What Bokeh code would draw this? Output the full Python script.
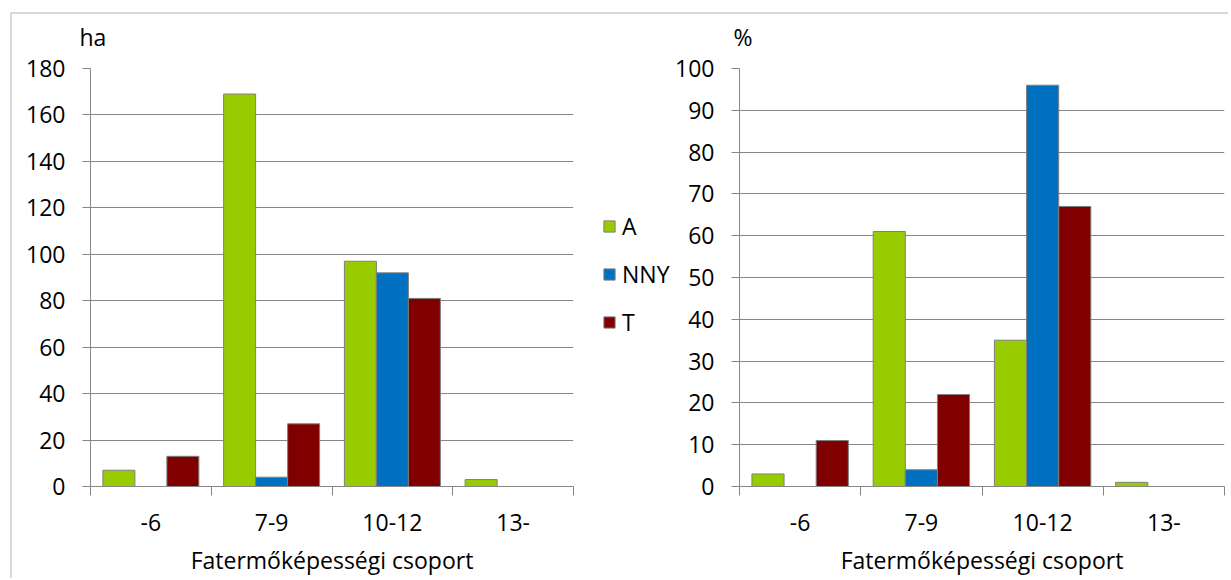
from bokeh.plotting import figure
from bokeh.models import (ColumnDataSource, Range1d, FixedTicker, SingleIntervalTicker,
                          Legend, LegendItem, InlineStyleSheet)
from bokeh.layouts import row
from bokeh.embed import file_html
from bokeh.resources import INLINE

# ---- data ----
categories = ["-6", "7-9", "10-12", "13-"]
series_names = ["A", "NNY", "T"]
series_colors = ["#99cc00", "#0070c0", "#800000"]

ha_A = [7, 169, 97, 3]
ha_NNY = [0, 4, 92, 0]
ha_T = [13, 27, 81, 0]

pct_A = [3, 61, 35, 1]
pct_NNY = [0, 4, 96, 0]
pct_T = [11, 22, 67, 0]

x_title = "Fatermőképességi csoport"

FONT = "Open Sans"
FS = "23px"
GRID = "#868686"
OUTLINE = "#7f7f7f"
BAR_W = 0.265
OFFSETS = [-BAR_W, 0.0, BAR_W]
H = 576


def bar_sources(series):
    out = []
    for vals, off in zip(series, OFFSETS):
        out.append(ColumnDataSource(dict(
            x=[i + 0.5 + off for i in range(len(categories))],
            top=vals,
            la=[1.0 if v > 0 else 0.0 for v in vals],
        )))
    return out


def make_chart(series, ymax, ystep, unit, frame_w, mb_left, mb_right, title_offset):
    p = figure(output_backend="svg", toolbar_location=None,
               frame_width=frame_w, frame_height=418,
               min_border_left=mb_left, min_border_right=mb_right,
               min_border_top=68, min_border_bottom=H - 68 - 418,
               x_range=Range1d(0, len(categories)), y_range=Range1d(0, ymax),
               title=unit, background_fill_color="white", border_fill_color="white")
    p.outline_line_color = None
    p.title.text_font = FONT
    p.title.text_font_size = FS
    p.title.text_font_style = "normal"
    p.title.text_color = "#000000"
    p.title.align = "left"
    p.title.offset = title_offset
    p.title.standoff = 32

    for src, color in zip(bar_sources(series), series_colors):
        p.vbar(x="x", top="top", bottom=0, width=BAR_W, source=src,
               fill_color=color, line_color=OUTLINE, line_width=1, line_alpha="la")

    # x axis: labels at category centres, tick marks at category boundaries
    xa = p.xaxis[0]
    xa.ticker = FixedTicker(ticks=[i + 0.5 for i in range(len(categories))],
                            minor_ticks=list(range(len(categories) + 1)))
    xa.major_label_overrides = {i + 0.5: c for i, c in enumerate(categories)}
    xa.major_tick_out = 0
    xa.major_tick_in = 0
    xa.minor_tick_out = 9
    xa.minor_tick_in = 0
    xa.minor_tick_line_color = GRID
    xa.axis_line_color = GRID
    xa.major_label_text_font = FONT
    xa.major_label_text_font_size = FS
    xa.major_label_text_color = "#000000"
    xa.major_label_standoff = 18
    xa.axis_label = x_title
    xa.axis_label_text_font = FONT
    xa.axis_label_text_font_size = FS
    xa.axis_label_text_font_style = "normal"
    xa.axis_label_text_color = "#000000"
    xa.axis_label_standoff = 10

    ya = p.yaxis[0]
    ya.ticker = SingleIntervalTicker(interval=ystep)
    ya.major_tick_out = 8
    ya.major_tick_in = 0
    ya.minor_tick_out = 0
    ya.minor_tick_in = 0
    ya.major_tick_line_color = GRID
    ya.axis_line_color = GRID
    ya.major_label_text_font = FONT
    ya.major_label_text_font_size = FS
    ya.major_label_text_color = "#000000"
    ya.major_label_standoff = 17

    p.xgrid.visible = False
    p.ygrid.grid_line_color = GRID
    p.ygrid.grid_line_width = 1
    return p


p1 = make_chart([ha_A, ha_NNY, ha_T], 180, 20, "ha", 483, 90, 8, -11)
p2 = make_chart([pct_A, pct_NNY, pct_T], 100, 10, "%", 485, 66, 4, -6)

# legend panel between the two charts (its bars lie outside its ranges; only the swatches show)
pl = figure(output_backend="svg", toolbar_location=None, width=91, height=H,
            min_border=0, x_axis_location=None, y_axis_location=None,
            x_range=Range1d(-20, -19), y_range=Range1d(0, 1),
            background_fill_color="white", border_fill_color="white")
pl.outline_line_color = None
pl.xgrid.visible = False
pl.ygrid.visible = False
items = []
for src, name, color in zip(bar_sources([ha_A, ha_NNY, ha_T]), series_names, series_colors):
    r = pl.vbar(x="x", top="top", bottom=0, width=BAR_W, source=src,
                fill_color=color, line_color=OUTLINE, line_width=1)
    items.append(LegendItem(label=name, renderers=[r]))
lg = Legend(items=items, location=(21, 146), orientation="vertical")
lg.glyph_width = 14
lg.glyph_height = 14
lg.label_standoff = 6
lg.label_height = 30
lg.spacing = 16
lg.margin = 0
lg.padding = 0
lg.border_line_color = None
lg.background_fill_alpha = 0
lg.label_text_font = FONT
lg.label_text_font_size = FS
lg.label_text_color = "#000000"
lg.label_text_baseline = "middle"
pl.add_layout(lg)

frame_css = InlineStyleSheet(css="""
:host::before {
  content: "";
  position: absolute;
  left: 10px; top: 12px; right: 0; bottom: 0;
  border-top: 2px solid #d9d9d9;
  border-left: 2px solid #d9d9d9;
  z-index: 10;
  pointer-events: none;
}
""")

layout = row(p1, pl, p2, margin=0, stylesheets=[frame_css])

open("out.html", "w").write(file_html(layout, INLINE))
